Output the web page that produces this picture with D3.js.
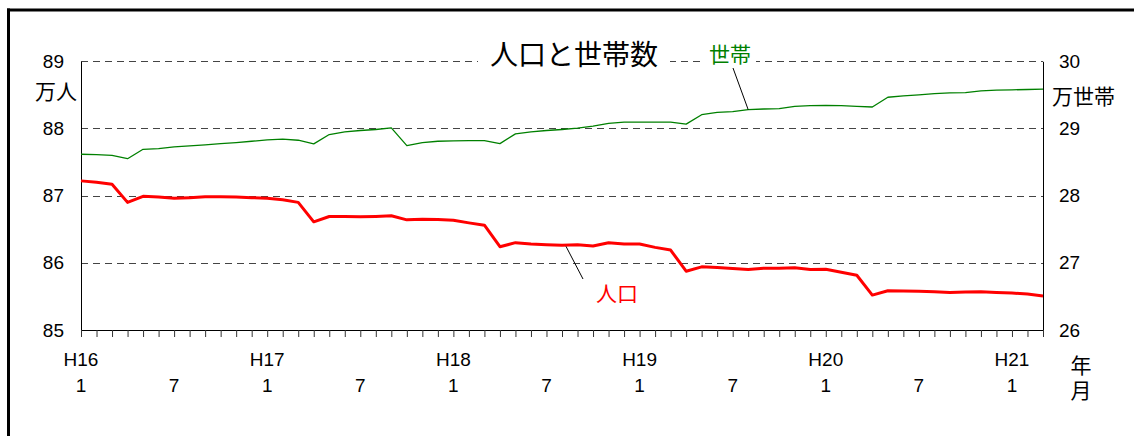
<!DOCTYPE html>
<html><head><meta charset="utf-8">
<script src="https://cdn.jsdelivr.net/npm/d3@7"></script>
<style>
html,body{margin:0;padding:0;background:#fff;overflow:hidden;}
svg{display:block;}
text{font-family:"Liberation Sans",Arial,"Noto Sans CJK JP",sans-serif;}
.jp{font-family:"Noto Sans CJK JP","Liberation Sans",sans-serif;}
</style></head>
<body>
<script>
// ---- data ----
const years = ["H16","H17","H18","H19","H20","H21"];
const monthsShown = ["1","7"];
const popTicks = [85,86,87,88,89];
const hhTicks = [26,27,28,29,30];
// 人口 (万人), monthly from H16/1 to H21/3
const population = [87.22,87.20,87.17,86.90,86.99,86.98,86.96,86.97,86.985,86.985,86.98,86.97,
 86.96,86.94,86.90,86.61,86.69,86.69,86.685,86.69,86.70,86.64,86.65,86.645,
 86.635,86.595,86.56,86.24,86.30,86.28,86.27,86.26,86.27,86.25,86.30,86.28,
 86.28,86.23,86.19,85.875,85.94,85.93,85.915,85.90,85.92,85.92,85.925,85.90,
 85.905,85.86,85.815,85.52,85.585,85.58,85.575,85.57,85.56,85.565,85.57,85.56,
 85.55,85.535,85.505];
// 世帯 (万世帯)
const households = [28.616,28.61,28.60,28.55,28.69,28.70,28.725,28.74,28.755,28.775,28.79,28.81,
 28.83,28.84,28.825,28.77,28.91,28.95,28.97,28.985,29.01,28.745,28.79,28.81,
 28.815,28.82,28.82,28.775,28.92,28.95,28.97,28.985,29.005,29.035,29.075,29.095,
 29.095,29.095,29.095,29.065,29.205,29.24,29.25,29.28,29.29,29.295,29.33,29.34,
 29.345,29.34,29.33,29.32,29.465,29.485,29.50,29.52,29.53,29.535,29.56,29.57,
 29.575,29.58,29.585];
// categories: year/month
const categories = [];
years.forEach(y => { for (let m = 1; m <= 12; m++) categories.push(y + "/" + m); });
const cats = categories.slice(0, population.length);

// ---- layout ----
const W = 1134, H = 436;
const L = 81, R = 1043, T = 61.3, B = 330;
const svg = d3.select("body").append("svg").attr("width", W).attr("height", H);

// frame (top and left edges visible)
svg.append("line").attr("x1", 7).attr("x2", W).attr("y1", 10).attr("y2", 10)
  .attr("stroke", "#000").attr("stroke-width", 3);
svg.append("line").attr("x1", 8.5).attr("x2", 8.5).attr("y1", 8.5).attr("y2", H)
  .attr("stroke", "#000").attr("stroke-width", 3);

const x = d3.scalePoint().domain(cats).range([L, R]);
const yL = d3.scaleLinear().domain([85, 89]).range([B, T]);
const yR = d3.scaleLinear().domain([26, 30]).range([B, T]);

// gridlines
svg.append("g").selectAll("line").data(popTicks.filter(v => v > 85)).join("line")
  .attr("x1", L).attr("x2", R).attr("y1", d => Math.round(yL(d)) + 0.5).attr("y2", d => Math.round(yL(d)) + 0.5)
  .attr("stroke", "#444").attr("stroke-width", 1).attr("stroke-dasharray", "7,5");

// left axis
const gL = svg.append("g").attr("transform", `translate(${L},0)`)
  .call(d3.axisLeft(yL).tickValues(popTicks).tickSize(0).tickPadding(17).tickFormat(d3.format("d")));
gL.select(".domain").attr("stroke", "#000");
gL.selectAll("text").attr("font-size", 19).attr("fill", "#000").attr("font-family", "Liberation Sans, Arial, sans-serif");

// right axis
const gR = svg.append("g").attr("transform", `translate(${R},0)`)
  .call(d3.axisRight(yR).tickValues(hhTicks).tickSize(0).tickPadding(16).tickFormat(d3.format("d")));
gR.select(".domain").attr("stroke", "#000");
gR.selectAll("text").attr("font-size", 19).attr("fill", "#000").attr("font-family", "Liberation Sans, Arial, sans-serif");

// bottom axis
const gB = svg.append("g").attr("transform", `translate(0,${B})`)
  .call(d3.axisBottom(x).tickSize(7).tickFormat(() => ""));
gB.select(".domain").attr("stroke", "#000");
gB.selectAll(".tick line").attr("stroke", "#333");

// x labels
cats.forEach(c => {
  const [yr, m] = c.split("/");
  const px = x(c);
  if (m === monthsShown[0]) {
    svg.append("text").attr("x", px).attr("y", 366).attr("text-anchor", "middle")
      .attr("font-size", 19).text(yr);
  }
  if (monthsShown.includes(m)) {
    svg.append("text").attr("x", px).attr("y", 392).attr("text-anchor", "middle")
      .attr("font-size", 19).text(m);
  }
});

// lines
const lineL = d3.line().x((d, i) => x(cats[i])).y(d => yL(d));
const lineR = d3.line().x((d, i) => x(cats[i])).y(d => yR(d));
svg.append("path").datum(households).attr("d", lineR).attr("fill", "none")
  .attr("stroke", "#008000").attr("stroke-width", 1.3).attr("stroke-linejoin", "round");
svg.append("path").datum(population).attr("d", lineL).attr("fill", "none")
  .attr("stroke", "#ff0000").attr("stroke-width", 3).attr("stroke-linejoin", "round");

// title with white background
svg.append("rect").attr("x", 478).attr("y", 40).attr("width", 192).attr("height", 32).attr("fill", "#fff");
svg.append("text").attr("class", "jp").attr("x", 574).attr("y", 65).attr("text-anchor", "middle")
  .attr("font-size", 28).attr("fill", "#000").text("人口と世帯数");

// series labels
svg.append("rect").attr("x", 704).attr("y", 42).attr("width", 52).attr("height", 26).attr("fill", "#fff");
svg.append("text").attr("class", "jp").attr("x", 730).attr("y", 62).attr("text-anchor", "middle")
  .attr("font-size", 21).attr("fill", "#008000").text("世帯");
svg.append("line").attr("x1", 733).attr("y1", 68).attr("x2", x(cats[43])).attr("y2", yR(households[43]))
  .attr("stroke", "#000").attr("stroke-width", 1);

svg.append("text").attr("class", "jp").attr("x", 617).attr("y", 301).attr("text-anchor", "middle")
  .attr("font-size", 21).attr("fill", "#ff0000").text("人口");
svg.append("line").attr("x1", 583).attr("y1", 279).attr("x2", 566).attr("y2", yL(population[31]) + 1)
  .attr("stroke", "#000").attr("stroke-width", 1);

// unit labels
svg.append("text").attr("class", "jp").attr("x", 77).attr("y", 99).attr("text-anchor", "end")
  .attr("font-size", 21).text("万人");
svg.append("text").attr("class", "jp").attr("x", 1052).attr("y", 104).attr("text-anchor", "start")
  .attr("font-size", 21).text("万世帯");
svg.append("text").attr("class", "jp").attr("x", 1081).attr("y", 355)
  .attr("font-size", 21).style("writing-mode", "vertical-rl").attr("letter-spacing", 4).text("年月");
</script>
</body></html>
